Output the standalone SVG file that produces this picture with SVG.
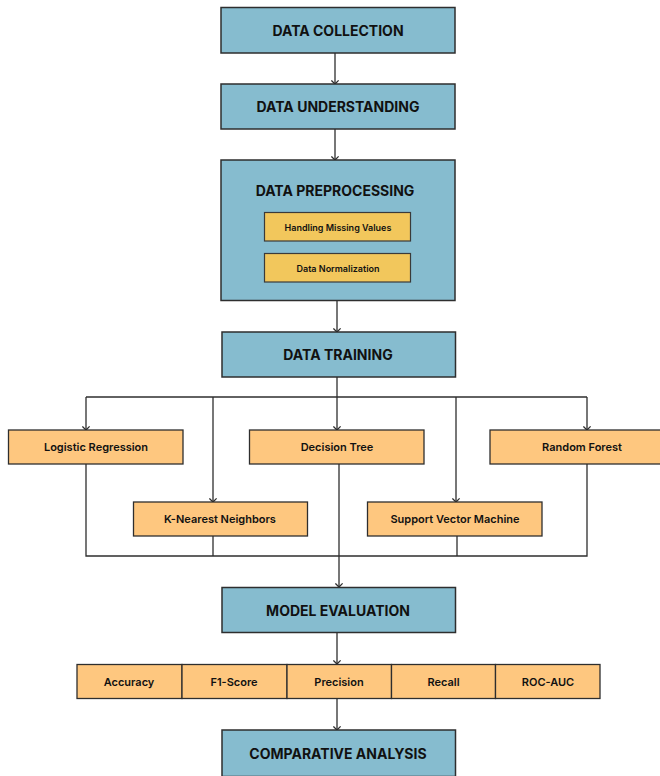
<svg xmlns="http://www.w3.org/2000/svg" width="660" height="776" viewBox="0 0 660 776">
<style>
.blue{fill:#86bccf;stroke:#2e2e2e;stroke-width:1.5}
.gold{fill:#f2c75c;stroke:#3a3a3a;stroke-width:1.2}
.org{fill:#fec77f;stroke:#2e2e2e;stroke-width:1.3}
.t1{font-family:Inter,"Liberation Sans",sans-serif;font-weight:700;font-size:14px;fill:#111;text-anchor:middle;dominant-baseline:central}
.t2{font-family:Inter,"Liberation Sans",sans-serif;font-weight:600;font-size:9px;fill:#111;text-anchor:middle;dominant-baseline:central}
.t3{font-family:Inter,"Liberation Sans",sans-serif;font-weight:600;font-size:11px;fill:#111;text-anchor:middle;dominant-baseline:central}
.ln{fill:none;stroke:#2e2e2e;stroke-width:1.3}
</style>
<defs>
<marker id="ar" viewBox="0 0 10 10" refX="9" refY="5" markerWidth="9" markerHeight="9" markerUnits="userSpaceOnUse" orient="auto">
<path d="M5,1 L9,5 L5,9" fill="none" stroke="#2e2e2e" stroke-width="1.4"/>
</marker>
</defs>
<rect width="660" height="776" fill="#fff"/>
<g id="connectors">
<path class="ln" d="M335,53 V84" marker-end="url(#ar)"/>
<path class="ln" d="M335,129 V160" marker-end="url(#ar)"/>
<path class="ln" d="M337,301 V332" marker-end="url(#ar)"/>
<path class="ln" d="M337,377 V397"/>
<path class="ln" d="M86,397 H587"/>
<path class="ln" d="M86,397 V430" marker-end="url(#ar)"/>
<path class="ln" d="M213,397 V502" marker-end="url(#ar)"/>
<path class="ln" d="M337,397 V430" marker-end="url(#ar)"/>
<path class="ln" d="M456,397 V502" marker-end="url(#ar)"/>
<path class="ln" d="M587,397 V430" marker-end="url(#ar)"/>
<path class="ln" d="M86,464 V556 H587 V464"/>
<path class="ln" d="M213,536 V556"/>
<path class="ln" d="M457,536 V556"/>
<path class="ln" d="M339,464 V587" marker-end="url(#ar)"/>
<path class="ln" d="M337,633 V664" marker-end="url(#ar)"/>
<path class="ln" d="M337,698 V730" marker-end="url(#ar)"/>
</g>
<g id="data-collection"><rect class="blue" x="221" y="7.5" width="234" height="45.5"/><text class="t1" x="338" y="30">DATA COLLECTION</text></g>
<g id="data-understanding"><rect class="blue" x="221" y="84" width="234" height="45"/><text class="t1" x="338" y="106.5">DATA UNDERSTANDING</text></g>
<g id="data-preprocessing"><rect class="blue" x="221" y="160" width="234" height="140.5"/><text class="t1" x="335" y="190">DATA PREPROCESSING</text>
<g id="handling-missing"><rect class="gold" x="264.5" y="212.5" width="146" height="28.5"/><text class="t2" x="338" y="227">Handling Missing Values</text></g>
<g id="data-normalization"><rect class="gold" x="264.5" y="253.5" width="146" height="28.5"/><text class="t2" x="338" y="268">Data Normalization</text></g>
</g>
<g id="data-training"><rect class="blue" x="222" y="332" width="233.5" height="45"/><text class="t1" x="338" y="354.5">DATA TRAINING</text></g>
<g id="logistic-regression"><rect class="org" x="8.5" y="430" width="174.5" height="34"/><text class="t3" x="96" y="447">Logistic Regression</text></g>
<g id="decision-tree"><rect class="org" x="249.5" y="430" width="174.5" height="34"/><text class="t3" x="337" y="447">Decision Tree</text></g>
<g id="random-forest"><rect class="org" x="490" y="430" width="172" height="34"/><text class="t3" x="582" y="447">Random Forest</text></g>
<g id="knn"><rect class="org" x="133.5" y="502" width="174" height="34"/><text class="t3" x="220" y="519">K-Nearest Neighbors</text></g>
<g id="svm"><rect class="org" x="367.5" y="502" width="174.5" height="34"/><text class="t3" x="455" y="519">Support Vector Machine</text></g>
<g id="model-evaluation"><rect class="blue" x="222" y="587.5" width="233.5" height="45"/><text class="t1" x="338" y="610">MODEL EVALUATION</text></g>
<g id="metrics">
<g id="accuracy"><rect class="org" x="77" y="664.5" width="105" height="34"/><text class="t3" x="129" y="681.5">Accuracy</text></g>
<g id="f1-score"><rect class="org" x="182" y="664.5" width="105" height="34"/><text class="t3" x="234" y="681.5">F1-Score</text></g>
<g id="precision"><rect class="org" x="287" y="664.5" width="104.5" height="34"/><text class="t3" x="339" y="681.5">Precision</text></g>
<g id="recall"><rect class="org" x="391.5" y="664.5" width="104" height="34"/><text class="t3" x="443.5" y="681.5">Recall</text></g>
<g id="roc-auc"><rect class="org" x="495.5" y="664.5" width="104.5" height="34"/><text class="t3" x="548" y="681.5">ROC-AUC</text></g>
</g>
<g id="comparative-analysis"><rect class="blue" x="222" y="730" width="233.5" height="46.5"/><text class="t1" x="338" y="753">COMPARATIVE ANALYSIS</text></g>
</svg>
